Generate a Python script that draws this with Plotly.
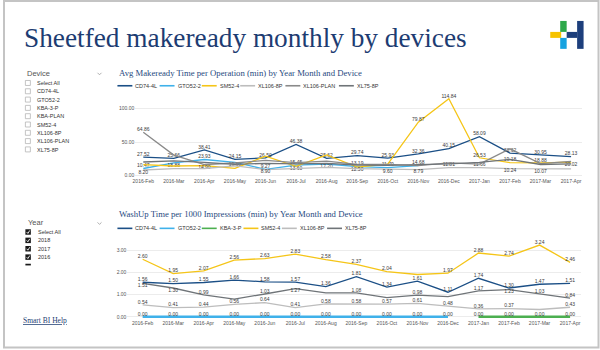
import plotly.graph_objects as go

# ---------------- data ----------------
months = ["2016-Feb", "2016-Mar", "2016-Apr", "2016-May", "2016-Jun", "2016-Jul", "2016-Aug",
          "2016-Sep", "2016-Oct", "2016-Nov", "2016-Dec", "2017-Jan", "2017-Feb", "2017-Mar", "2017-Apr"]

# Chart 1: Avg Makeready Time per Operation (min)
mr_cd74_4l = [27.52, 25.66, 38.41, 24.15, 26.50, 46.38, 25.62, 29.74, 25.93, 32.36, 40.15, 58.09, 33.62, 30.95, 28.13]
mr_gto52_2 = [10.47, 18.88, 23.93, 19.50, 9.27, 15.45, 17.20, 13.19, 11.79, 14.68, None, None, None, None, None]
mr_sm52_4 = [16.39, 14.20, 14.90, 10.69, 28.85, 13.60, 30.85, 12.50, 16.86, 79.87, 114.84, 26.53, 19.18, 18.88, 20.02]
mr_xl106_8p = [8.20, 10.29, 10.50, 14.29, 8.90, 10.84, 12.10, 10.40, 9.60, 8.79, 11.81, 11.66, 10.24, 10.07, 9.93]
mr_xl106_plan = [64.86, 30.51, 16.44, 18.69, 22.73, 19.20, 21.50, 16.58, 16.60, 14.68, 18.75, 16.97, 39.89, 17.80, 21.00]
mr_xl75_8p = [20.20, 22.00, 19.50, 16.80, 18.00, 17.50, 18.20, 15.68, 15.10, 16.20, 17.40, 19.50, 24.00, 16.50, 17.55]

# Chart 2: WashUp Time per 1000 Impressions (min)
wu_cd74_4l = [1.56, 1.50, 1.55, 1.66, 1.58, 1.57, 1.36, 1.81, 1.34, 1.61, 1.11, 1.74, 1.30, 1.47, 1.51]
wu_gto52_2 = [0.00, 0.00, 0.00, 0.00, 0.00, 0.00, 0.00, 0.00, 0.00, 0.00, 0.00, None, None, None, None]
wu_kba_3_p = [None, None, None, None, None, None, None, None, None, None, None, 0.00, 0.00, 0.00, 0.00]
wu_sm52_4 = [2.60, 1.95, 2.07, 2.56, 2.63, 2.83, 2.58, 2.37, 2.04, 1.91, 1.97, 2.88, 2.74, 3.24, 2.46]
wu_xl106_8p = [0.54, 0.41, 0.44, 0.56, 0.64, 0.41, 0.58, 0.58, 0.57, 0.61, 0.48, 0.36, 0.37, 0.33, 0.43]
wu_xl75_8p = [1.51, 1.30, 0.99, 0.80, 1.03, 1.27, 1.08, 1.08, 0.87, 0.98, 0.91, 1.17, 1.23, 1.03, 0.84]

device_items = ["Select All", "CD74-4L", "GTO52-2", "KBA-3-P", "KBA-PLAN", "SM52-4", "XL106-8P", "XL106-PLAN", "XL75-8P"]
year_items = ["Select All", "2018", "2017", "2016"]

title = "Sheetfed makeready monthly by devices"
chart1_title = "Avg Makeready Time per Operation (min) by Year Month and Device"
chart2_title = "WashUp Time per 1000 Impressions (min) by Year Month and Device"
y1_ticks = [0, 50, 100]
y2_ticks = [0, 1, 2, 3]

# ---------------- style ----------------
colors = {
    "CD74-4L": "#1b4f86",
    "GTO52-2": "#3fb1ea",
    "KBA-3-P": "#4caf50",
    "SM52-4": "#f5c518",
    "XL106-8P": "#bdbdbd",
    "XL106-PLAN": "#8a8a8a",
    "XL75-8P": "#6f7478",
}
W, H = 600, 350
SANS = "Liberation Sans, Arial, sans-serif"
SERIF = "Liberation Serif, Times New Roman, serif"
LABEL_SIZE = 5


def px(x):
    return x / W


def py(y):
    return 1 - y / H


fig = go.Figure()

chart1 = [("CD74-4L", mr_cd74_4l), ("GTO52-2", mr_gto52_2), ("SM52-4", mr_sm52_4),
          ("XL106-8P", mr_xl106_8p), ("XL106-PLAN", mr_xl106_plan), ("XL75-8P", mr_xl75_8p)]
chart2 = [("CD74-4L", wu_cd74_4l), ("GTO52-2", wu_gto52_2), ("KBA-3-P", wu_kba_3_p),
          ("SM52-4", wu_sm52_4), ("XL106-8P", wu_xl106_8p), ("XL75-8P", wu_xl75_8p)]

# axis geometry (pixels)
c1 = dict(left=133, right=582, top=92, bot=178, zero=176, scale=0.67, r0=-0.26, r1=14.36)
c2 = dict(left=125, right=581, top=241, bot=320, zero=317.7, scale=22.2, r0=-0.5, r1=14.36)


def add_series(series, xa, ya, geo, widths):
    # Power BI style: hide data labels that would collide with ones already placed
    step = (geo["right"] - geo["left"]) / (geo["r1"] - geo["r0"])
    placed = []
    # reserve the category tick-label strip
    for i in range(len(months)):
        cx = geo["left"] + (i - geo["r0"]) * step
        placed.append((cx - 11, geo["bot"] + 1, cx + 11, geo["bot"] + 9))
    for name, vals in series:
        texts, positions = [], []
        for i, v in enumerate(vals):
            if v is None:
                texts.append("")
                positions.append("top center")
                continue
            s = f"{v:.2f}"
            cx = geo["left"] + (i - geo["r0"]) * step
            cy = geo["zero"] - v * geo["scale"]
            w = len(s) * 0.58 * LABEL_SIZE
            ok = None
            for pos, ly in (("top center", cy - 4.5), ("bottom center", cy + 4.5)):
                box = (cx - w / 2, ly - 3.7, cx + w / 2, ly + 3.7)
                if all(box[2] <= b[0] or box[0] >= b[2] or box[3] <= b[1] or box[1] >= b[3] for b in placed):
                    ok = (pos, box)
                    break
            if ok:
                placed.append(ok[1])
                texts.append(s)
                positions.append(ok[0])
            else:
                texts.append("")
                positions.append("top center")
        fig.add_trace(go.Scatter(
            x=months, y=vals, name=name, mode="lines+text",
            text=texts, textposition=positions,
            textfont=dict(size=LABEL_SIZE, color="#3a3a3a", family=SANS),
            line=dict(color=colors[name], width=widths.get(name, 1.3)),
            xaxis=xa, yaxis=ya, cliponaxis=False, showlegend=False, hoverinfo="skip"))


add_series(chart1, "x", "y", c1, {})
add_series(chart2, "x2", "y2", c2, {"GTO52-2": 2.4, "KBA-3-P": 2.4})

tickfont = dict(size=5, color="#555555", family=SANS)


def xax(geo, anchor):
    return dict(domain=[px(geo["left"]), px(geo["right"])], anchor=anchor, type="category",
                range=[geo["r0"], geo["r1"]], showgrid=False, zeroline=False, showline=False,
                tickfont=tickfont, ticks="", fixedrange=True)


def yax(geo, anchor, ticks):
    return dict(domain=[py(geo["bot"]), py(geo["top"])], anchor=anchor,
                range=[-(geo["bot"] - geo["zero"]) / geo["scale"], (geo["zero"] - geo["top"]) / geo["scale"]],
                tickvals=ticks, ticktext=[f"{v:.2f}" for v in ticks],
                showgrid=True, gridcolor="#ececec", gridwidth=1, zeroline=False, showline=False,
                tickfont=tickfont, ticks="", fixedrange=True)


fig.update_layout(
    width=W, height=H, margin=dict(l=0, r=0, t=0, b=0),
    paper_bgcolor="white", plot_bgcolor="white",
    font=dict(family=SANS),
    xaxis=xax(c1, "y"), yaxis=yax(c1, "x", y1_ticks),
    xaxis2=xax(c2, "y2"), yaxis2=yax(c2, "x2", y2_ticks),
)

shapes = []
annotations = []


def text(x, y, s, size, color="#333333", family=SANS, xanchor="left"):
    annotations.append(dict(x=px(x), y=py(y), xref="paper", yref="paper", text=s, showarrow=False,
                            xanchor=xanchor, yanchor="middle",
                            font=dict(size=size, color=color, family=family)))


def rect(x0, y0, x1, y1, fill=None, line=None, lw=0):
    shapes.append(dict(type="rect", xref="paper", yref="paper", x0=px(x0), x1=px(x1), y0=py(y0), y1=py(y1),
                       fillcolor=fill if fill else "rgba(0,0,0,0)",
                       line=dict(color=line if line else "rgba(0,0,0,0)", width=lw)))


def seg(x0, y0, x1, y1, color, lw):
    shapes.append(dict(type="line", xref="paper", yref="paper", x0=px(x0), x1=px(x1), y0=py(y0), y1=py(y1),
                       line=dict(color=color, width=lw)))


def tw(s, size):
    w = 0
    for c in s:
        if c.isdigit():
            w += 0.556
        elif c == "-":
            w += 0.333
        elif c in "I":
            w += 0.278
        elif c.isupper():
            w += 0.69
        else:
            w += 0.5
    return w * size


# outer border
rect(1, 1, 598.5, 348.5, line="#c4c4c4", lw=2)

# page title
text(19, 38.5, title, 27.3, color="#1d3c72", family=SERIF)

# logo
rect(550, 32, 561, 38, fill="#f6c300")
rect(560, 21, 566.5, 32, fill="#2ea84a")
rect(560, 38, 566.5, 49, fill="#17a2e0")
rect(566.5, 32, 577, 38, fill="#1d3f7c")
rect(577, 21, 583.5, 49, fill="#1d3f7c")

# chart titles
text(115, 73, chart1_title, 8.7, color="#1f4a80", family=SERIF)
text(115, 215, chart2_title, 8.7, color="#1f4a80", family=SERIF)


def legend(series, x0, y):
    x = x0
    for name, _ in series:
        seg(x, y, x + 15, y, colors[name], 1.6)
        text(x + 16, y, name, 5.5, color="#333333")
        x += 16 + tw(name, 5.5) + 4


legend(chart1, 115, 86)
legend(chart2, 115, 229)


# slicers
def chevron(x, y):
    shapes.append(dict(type="path", xref="paper", yref="paper",
                       path=f"M {px(x-2)},{py(y-1)} L {px(x)},{py(y+1)} L {px(x+2)},{py(y-1)}",
                       line=dict(color="#9a9a9a", width=0.8)))


text(22, 74, "Device", 7.5, color="#555555")
chevron(97, 74)
for i, item in enumerate(device_items):
    yy = 83.3 + i * 8.33
    rect(22.5, yy - 2.6, 27.5, yy + 2.4, fill="white", line="#b5b5b5", lw=0.8)
    text(32, yy, item, 5.5, color="#333333")

text(23, 223, "Year", 7.5, color="#555555")
chevron(97, 224)
for i, item in enumerate(year_items):
    yy = 232.7 + i * 8.4
    rect(22.5, yy - 2.8, 28, yy + 2.7, fill="#1a1a1a")
    shapes.append(dict(type="path", xref="paper", yref="paper",
                       path=f"M {px(23.8)},{py(yy)} L {px(25)},{py(yy+1.4)} L {px(26.9)},{py(yy-1.6)}",
                       line=dict(color="white", width=0.9)))
    text(33, yy, item, 5.5, color="#333333")
# partially visible last checkbox
rect(22.5, 264.5, 28, 266.2, fill="#1a1a1a")

text(18, 321.7, "<u>Smart BI Help</u>", 7.5, color="#1d3c72", family=SERIF)

fig.update_layout(shapes=shapes, annotations=annotations)
fig.write_html("out.html")
